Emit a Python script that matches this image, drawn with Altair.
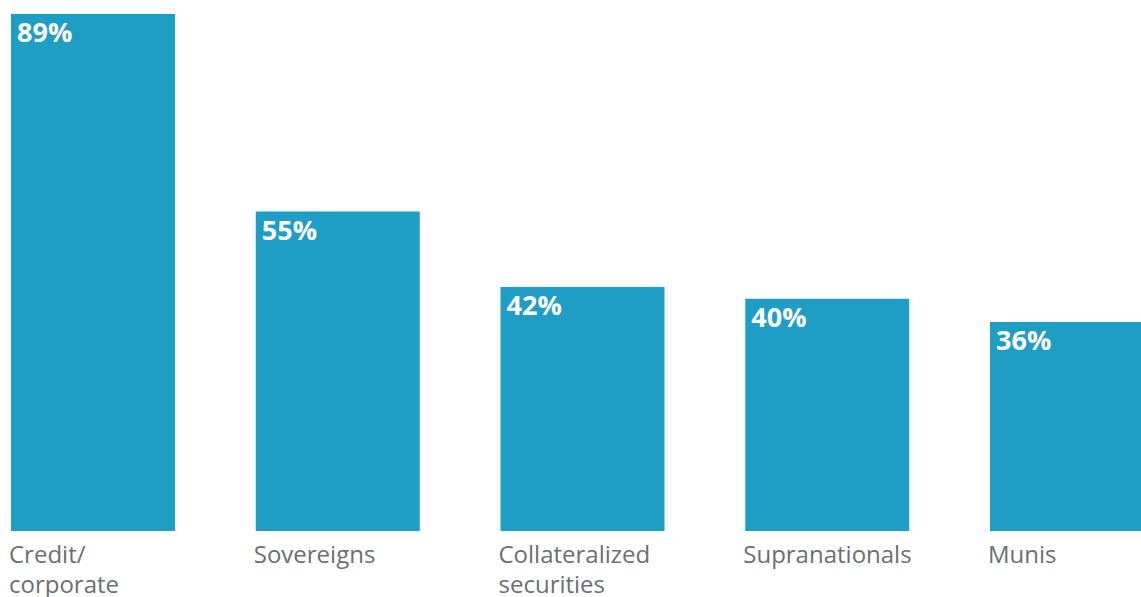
import altair as alt
import pandas as pd

# Share of respondents by fixed-income sector
categories = ["Credit/|corporate", "Sovereigns", "Collateralized|securities", "Supranationals", "Munis"]
shares = [89, 55, 42, 40, 36]

df = pd.DataFrame({"sector": categories, "share": shares})
df["label"] = df["share"].astype(str) + "%"

BAR = "#1F9EC5"
GREY = "#6D6F71"
FONT = "Open Sans"

x_scale = alt.Scale(range=[11, 1154], paddingInner=0.33, paddingOuter=0)
y_scale = alt.Scale(domain=[0, 89], nice=False, zero=True)

bars = alt.Chart(df).mark_bar(color=BAR).encode(
    x=alt.X(
        "sector:N",
        sort=None,
        scale=x_scale,
        axis=alt.Axis(
            title=None,
            domain=False,
            ticks=False,
            grid=False,
            labelAngle=0,
            labelAlign="left",
            labelBaseline="top",
            labelPadding=12,
            labelOffset=-84,
            labelFont=FONT,
            labelFontSize=24,
            labelColor=GREY,
            labelLineHeight=30,
            labelExpr="split(datum.label, '|')",
        ),
    ),
    y=alt.Y("share:Q", scale=y_scale, axis=None),
)

labels = alt.Chart(df).mark_text(
    align="left",
    baseline="top",
    dx=6,
    dy=7,
    font=FONT,
    fontSize=27,
    fontWeight="bold",
    color="white",
).encode(
    x=alt.X("sector:N", sort=None, bandPosition=0),
    y=alt.Y("share:Q", scale=y_scale),
    text="label:N",
)

chart = (
    alt.layer(bars, labels)
    .properties(
        width=1141,
        height=517,
        background="white",
        padding={"left": 0, "top": 14, "right": 0, "bottom": 66},
        autosize=alt.AutoSizeParams(type="none"),
    )
    .configure_view(strokeWidth=0, stroke="transparent")
)

chart.save("out.html", embed_options={"renderer": "svg", "actions": False})
